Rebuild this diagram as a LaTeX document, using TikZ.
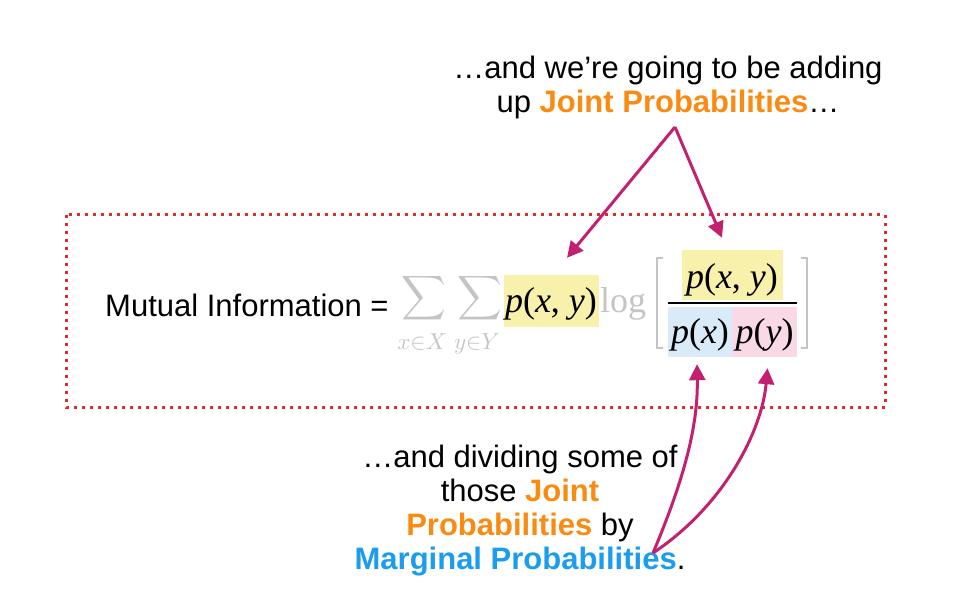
\documentclass[tikz,border=0pt]{standalone}
\usepackage{graphicx}
\usepackage{fontspec}
\setmainfont{Liberation Sans}
\newfontfamily\tms{Liberation Serif}
\usetikzlibrary{arrows.meta}

\definecolor{jointorange}{HTML}{F98B13}
\definecolor{margblue}{HTML}{1B9CEF}
\definecolor{arrowpink}{HTML}{C2216F}
\definecolor{framered}{HTML}{E02A2A}
\definecolor{hlyellow}{HTML}{F7F1AB}
\definecolor{hlblue}{HTML}{D9EBF9}
\definecolor{hlpink}{HTML}{F9D9E6}
\definecolor{fadegray}{HTML}{C4C4C4}

\newcommand{\pof}[1]{{\tms\textit{p}(#1)}}
\newcommand{\jointtxt}[1]{\textbf{\color{jointorange}#1}}
\newcommand{\margtxt}[1]{\textbf{\color{margblue}#1}}
\newcommand{\bigsum}{\scalebox{3.1}{$\displaystyle\sum$}}

\begin{document}
\begin{tikzpicture}[x=1pt, y=-1pt,
		sanstext/.style={inner sep=0pt, font=\fontsize{31}{34}\selectfont},
		hlbox/.style={inner xsep=0pt, inner ysep=6pt, font=\fontsize{36}{36}\selectfont},
		sumsign/.style={inner sep=0pt, text=fadegray},
		subidx/.style={inner sep=0pt, text=fadegray, anchor=base},
		pointer/.style={draw=arrowpink, line width=3pt, -{Triangle[length=16pt,width=16pt]}},
		bracket/.style={draw=fadegray, line width=2pt}
	]
		\useasboundingbox (0,0) rectangle (980,612);

		% the dotted frame round the formula
		\draw[framered, line width=3pt, dash pattern=on 3pt off 5pt] (66,215) rectangle (885,407);

		% formula
		\node[sanstext, anchor=base west] (milabel) at (105,317) {Mutual Information =};
		\node[sumsign] (sumx) at (424,298) {\bigsum};
		\node[sumsign] (sumy) at (480,298) {\bigsum};
		\node[subidx] (subx) at (422,349) {\scalebox{2.3}{$x{\in}X$}};
		\node[subidx] (suby) at (477,349) {\scalebox{2.3}{$y{\in}Y$}};
		\node[hlbox, fill=hlyellow, minimum width=95pt, text height=32pt, text depth=8pt, anchor=base] (pxy) at (551,313) {\pof{\textit{x}, \textit{y}}};
		\node[inner sep=0pt, text=fadegray, font=\tms\fontsize{36}{36}\selectfont, anchor=base west] (logw) at (600,313) {log};
		\node[hlbox, fill=hlyellow, minimum width=101pt, text height=33pt, text depth=5pt, anchor=base] (pnum) at (732,289) {\pof{\textit{x}, \textit{y}}};
		\node[hlbox, fill=hlblue, minimum width=64pt, text height=30pt, text depth=8pt, anchor=base] (pxb) at (700,343) {\pof{\textit{x}}};
		\node[hlbox, fill=hlpink, minimum width=65pt, text height=30pt, text depth=8pt, anchor=base] (pyb) at (764.5,343) {\pof{\textit{y}}};
		\draw[line width=2pt] ([yshift=4pt]pxb.north west) -- ([yshift=4pt]pyb.north east);
		\draw[bracket] (663,258) -- (657,258) -- (657,348) -- (663,348);
		\draw[bracket] (801,258) -- (807,258) -- (807,348) -- (801,348);

		% notes
		\node[sanstext, align=center, anchor=north] (topnote) at (668,56)
			{…and we’re going to be adding\\ up \jointtxt{Joint Probabilities}…};
		\node[sanstext, align=center, anchor=north] (botnote) at (520,445)
			{…and dividing some of\\ those \jointtxt{Joint}\\ \jointtxt{Probabilities} by\\ \margtxt{Marginal Probabilities}.};

		% arrows
		\coordinate (jsplit) at (675,127);
		\coordinate (msplit) at (653,553);
		\draw[pointer] (jsplit) -- ([xshift=16pt,yshift=17pt]pxy.north);
		\draw[pointer] (jsplit) -- ([xshift=-10pt,yshift=12pt]pnum.north);
		\draw[pointer] (msplit) .. controls (688,470) and (698,420) .. ([xshift=-3pt,yshift=-7pt]pxb.south);
		\draw[pointer] (msplit) .. controls (725,505) and (762,430) .. ([xshift=3pt,yshift=-11pt]pyb.south);
	\end{tikzpicture}
\end{document}
